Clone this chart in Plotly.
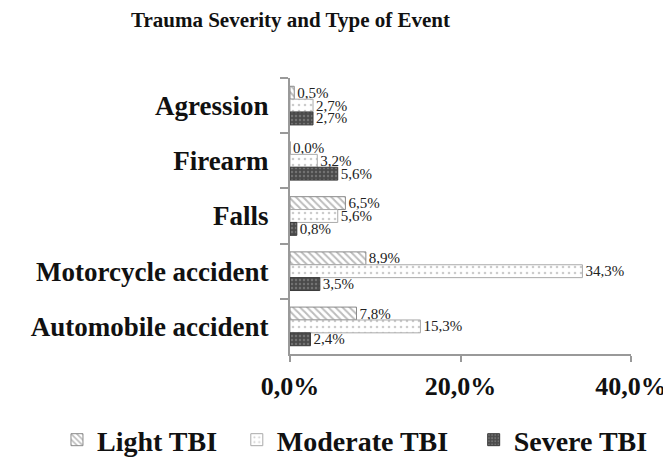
import plotly.graph_objects as go

categories = ["Agression", "Firearm", "Falls", "Motorcycle accident", "Automobile accident"]
light = [0.5, 0.0, 6.5, 8.9, 7.8]
moderate = [2.7, 3.2, 5.6, 34.3, 15.3]
severe = [2.7, 5.6, 0.8, 3.5, 2.4]
series_names = ["Light TBI", "Moderate TBI", "Severe TBI"]
x_ticks = [0, 20, 40]
x_tick_labels = ["0,0%", "20,0%", "40,0%"]

def fmt(v):
    return ("%.1f%%" % v).replace(".", ",")

styles = [
    dict(color="white", line=dict(color="#8a8a8a", width=1),
         pattern=dict(shape="\\", fgcolor="#7a7a7a", bgcolor="white", size=5, solidity=0.4)),
    dict(color="white", line=dict(color="#aaaaaa", width=1),
         pattern=dict(shape=".", fgcolor="#9a9a9a", bgcolor="white", size=6, solidity=0.15)),
    dict(color="#4a4a4a", line=dict(color="#3a3a3a", width=1),
         pattern=dict(shape=".", fgcolor="#9a9a9a", bgcolor="#4a4a4a", size=4, solidity=0.3)),
]
legend_ids = ["legend", "legend2", "legend3"]
legend_x = [0.073, 0.341, 0.694]

fig = go.Figure()
for name, vals, st, lg in zip(series_names, [light, moderate, severe], styles, legend_ids):
    fig.add_trace(go.Bar(
        y=categories, x=vals, name=name, orientation="h",
        marker=st, legend=lg,
        text=[fmt(v) for v in vals], textposition="outside",
        constraintext="none",
        textfont=dict(family="Liberation Serif", size=15, color="#222"),
        cliponaxis=False,
    ))

legend_common = dict(xref="container", yref="container", y=0.071, yanchor="middle",
                     xanchor="left", bgcolor="rgba(0,0,0,0)",
                     font=dict(family="Liberation Serif", size=28, color="#111", weight="bold"),
                     itemwidth=30)

fig.update_layout(
    width=671, height=465,
    margin=dict(l=282, r=48, t=70, b=119, autoexpand=False),
    paper_bgcolor="white", plot_bgcolor="white",
    barmode="group", bargap=0.3, bargroupgap=0.0,
    title=dict(text="Trauma Severity and Type of Event", xref="container", x=0.421,
               xanchor="center", yref="container", y=0.975, yanchor="middle",
               font=dict(family="Liberation Serif", size=21, color="#111", weight="bold")),
    font=dict(family="Liberation Serif", color="#111"),
    showlegend=True,
    legend=dict(x=legend_x[0], **legend_common),
    legend2=dict(x=legend_x[1], **legend_common),
    legend3=dict(x=legend_x[2], **legend_common),
)
fig.update_xaxes(
    range=[0, 40], tickvals=x_ticks, ticktext=x_tick_labels,
    showgrid=False, zeroline=False, showline=True, linecolor="#999", linewidth=2,
    ticks="outside", ticklen=6, tickcolor="#999", tickwidth=2,
    tickfont=dict(family="Liberation Serif", size=26, color="#111", weight="bold"),
    ticklabelstandoff=2,
    fixedrange=True,
)
fig.update_yaxes(
    autorange="reversed", tickson="boundaries",
    showgrid=False, zeroline=False, showline=True, linecolor="#999", linewidth=2,
    ticks="outside", ticklen=8, tickcolor="#999", tickwidth=2,
    tickfont=dict(family="Liberation Serif", size=27, color="#111", weight="bold"),
    ticklabelstandoff=14,
)

fig.write_html("out.html")
